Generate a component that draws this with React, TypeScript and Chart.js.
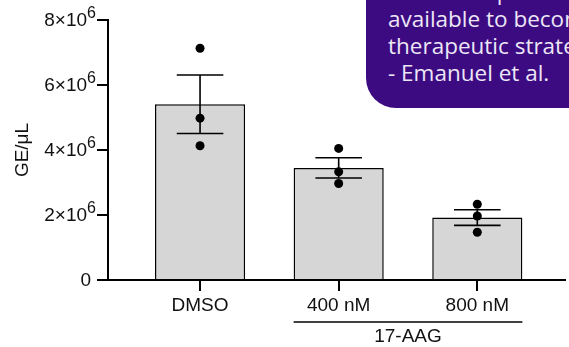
import React, { useEffect, useRef } from "react";
import { Chart, registerables } from "chart.js";

Chart.register(...registerables);

const categories = ["DMSO", "400 nM", "800 nM"];
const means = [5.41e6, 3.45e6, 1.92e6];
const sem = [0.9e6, 0.31e6, 0.24e6];
const replicates = [
  [7.13e6, 4.98e6, 4.13e6],
  [4.05e6, 3.33e6, 2.97e6],
  [2.33e6, 1.97e6, 1.47e6],
];
const yTicks = [0, 2e6, 4e6, 6e6, 8e6];
const yTickBase = ["0", "2×10", "4×10", "6×10", "8×10"];
const yTickExp = ["", "6", "6", "6", "6"];
const yTitle = "GE/μL";
const groupLabel = "17-AAG";
const groupMembers = [1, 2];
const calloutLines = [
  "these compounds are",
  "available to become",
  "therapeutic strategies",
  "- Emanuel et al.",
];

const FONT = "'Liberation Sans', Arial, Helvetica, sans-serif";

const errorBarPlugin = {
  id: "errorBars",
  afterDatasetDraw(chart: any, args: any) {
    if (args.index !== 0) return;
    const { ctx, scales } = chart;
    const x = scales.x;
    const y = scales.y;
    ctx.save();
    ctx.strokeStyle = "#000";
    ctx.lineWidth = 1.6;
    means.forEach((m, i) => {
      const cx = x.getPixelForValue(i);
      const half = x.getPixelForValue(i + 0.168) - cx;
      const top = y.getPixelForValue(m + sem[i]);
      const bot = y.getPixelForValue(m - sem[i]);
      ctx.beginPath();
      ctx.moveTo(cx, top);
      ctx.lineTo(cx, bot);
      ctx.moveTo(cx - half, top);
      ctx.lineTo(cx + half, top);
      ctx.moveTo(cx - half, bot);
      ctx.lineTo(cx + half, bot);
      ctx.stroke();
    });
    ctx.restore();
  },
};

const yLabelPlugin = {
  id: "yLabels",
  afterDraw(chart: any) {
    const { ctx, scales } = chart;
    const y = scales.y;
    const right = y.right - 11 - 1;
    ctx.save();
    ctx.fillStyle = "#111";
    ctx.textBaseline = "middle";
    ctx.textAlign = "left";
    yTicks.forEach((v, i) => {
      const py = y.getPixelForValue(v);
      ctx.font = `19px ${FONT}`;
      const wBase = ctx.measureText(yTickBase[i]).width;
      ctx.font = `16px ${FONT}`;
      const wExp = yTickExp[i] ? ctx.measureText(yTickExp[i]).width : 0;
      const gap = yTickExp[i] ? 0 : 5;
      const start = right - gap - wBase - wExp;
      ctx.font = `19px ${FONT}`;
      ctx.fillText(yTickBase[i], start, py + 1);
      if (yTickExp[i]) {
        ctx.font = `16px ${FONT}`;
        ctx.fillText(yTickExp[i], start + wBase, py - 6);
      }
    });
    ctx.restore();
  },
};

const groupPlugin = {
  id: "groupBracket",
  afterDraw(chart: any) {
    const { ctx, scales, chartArea } = chart;
    const x = scales.x;
    const x0 = x.getPixelForValue(groupMembers[0] - 0.325);
    const x1 = x.getPixelForValue(groupMembers[groupMembers.length - 1] + 0.325);
    const yLine = chartArea.bottom + 42;
    ctx.save();
    ctx.strokeStyle = "#000";
    ctx.lineWidth = 1.6;
    ctx.beginPath();
    ctx.moveTo(x0, yLine);
    ctx.lineTo(x1, yLine);
    ctx.stroke();
    ctx.fillStyle = "#111";
    ctx.font = `19px ${FONT}`;
    ctx.textAlign = "center";
    ctx.textBaseline = "alphabetic";
    ctx.fillText(groupLabel, (x0 + x1) / 2, yLine + 20);
    ctx.restore();
  },
};

export default function App() {
  const canvasRef = useRef<HTMLCanvasElement | null>(null);

  useEffect(() => {
    if (!canvasRef.current) return;
    const chart = new Chart(canvasRef.current, {
      type: "bar",
      data: {
        datasets: [
          {
            type: "bar",
            data: means.map((v, i) => ({ x: i, y: v })),
            backgroundColor: "#d6d6d6",
            borderColor: "#000",
            borderWidth: 1.5,
            barPercentage: 0.65,
            categoryPercentage: 1,
            order: 2,
          } as any,
          {
            type: "scatter",
            data: replicates.flatMap((arr, i) => arr.map((v) => ({ x: i, y: v }))),
            backgroundColor: "#000",
            borderWidth: 0,
            pointRadius: 4.5,
            order: 1,
          } as any,
        ],
      },
      options: {
        animation: false,
        responsive: false,
        devicePixelRatio: 1,
        layout: { padding: { top: 20, left: 0, right: 0, bottom: 0 } },
        plugins: { legend: { display: false }, tooltip: { enabled: false } },
        scales: {
          x: {
            type: "linear",
            offset: false,
            min: -0.664,
            max: 2.629,
            afterBuildTicks: (scale: any) => {
              scale.ticks = categories.map((_, i) => ({ value: i }));
            },
            afterFit: (scale: any) => {
              scale.height = 67;
            },
            ticks: {
              callback: (v: any) => categories[Math.round(Number(v))],
              font: { family: FONT, size: 19 },
              color: "#111",
              padding: 3,
              maxRotation: 0,
              autoSkip: false,
            },
            grid: {
              offset: false,
              drawOnChartArea: false,
              drawTicks: true,
              tickLength: 11,
              color: "#000",
              lineWidth: 2,
            },
            border: { display: true, color: "#000", width: 2 },
          },
          y: {
            type: "linear",
            min: 0,
            max: 8e6,
            afterBuildTicks: (scale: any) => {
              scale.ticks = yTicks.map((v) => ({ value: v }));
            },
            afterFit: (scale: any) => {
              scale.width = 108;
            },
            ticks: {
              callback: () => "",
              font: { family: FONT, size: 17 },
              padding: 3,
            },
            grid: {
              drawOnChartArea: false,
              drawTicks: true,
              tickLength: 11,
              color: "#000",
              lineWidth: 2,
            },
            border: { display: true, color: "#000", width: 2 },
            title: {
              display: true,
              text: yTitle,
              font: { family: FONT, size: 19 },
              color: "#111",
              padding: { top: 11, bottom: 0 },
            },
          },
        },
      },
      plugins: [errorBarPlugin, yLabelPlugin, groupPlugin],
    } as any);
    return () => chart.destroy();
  }, []);

  return (
    <div
      style={{
        position: "fixed",
        left: 0,
        top: 0,
        width: 569,
        height: 347,
        overflow: "hidden",
        background: "#fff",
      }}
    >
      <canvas ref={canvasRef} width={569} height={347} style={{ width: 569, height: 347, display: "block" }} />
      <div
        style={{
          position: "absolute",
          left: 366,
          top: -60,
          width: 320,
          height: 168,
          borderRadius: 30,
          background: "#3c0b82",
          overflow: "hidden",
        }}
      >
        <div
          style={{
            position: "absolute",
            left: 22,
            top: 37.75,
            fontFamily: "'Open Sans', 'Noto Sans', sans-serif",
            fontSize: 22.5,
            lineHeight: "27px",
            color: "#ece6f6",
            whiteSpace: "nowrap",
          }}
        >
          {calloutLines.map((l, i) => (
            <div key={i}>{l}</div>
          ))}
        </div>
      </div>
    </div>
  );
}
